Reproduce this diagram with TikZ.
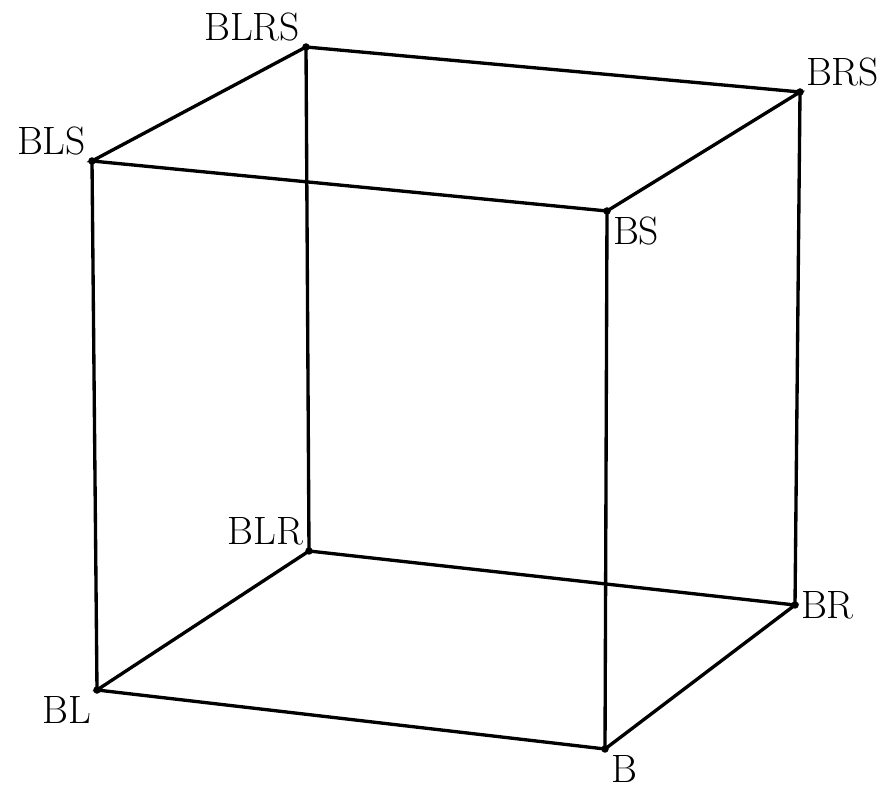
\documentclass[tikz,border=0pt]{standalone}
\usepackage{amsmath,amssymb}
\usetikzlibrary{arrows.meta}
\tikzset{vtx/.style={circle,fill,inner sep=0pt,minimum size=.15cm},lab/.style={font=\fontsize{22.5}{27}\selectfont,inner sep=2.5pt}}
\begin{document}
\begin{tikzpicture}[line width=1.9pt]
\useasboundingbox(0,0)rectangle(17.76,15.82);
\node[vtx](BLRS)at(6.12,14.88){};\node[vtx](BRS)at(16.0,13.98){};\node[vtx](BLS)at(1.84,12.6){};\node[vtx](BS)at(12.14,11.6){};
\node[vtx](BLR)at(6.18,4.8){};\node[vtx](BR)at(15.9,3.72){};\node[vtx](BL)at(1.94,2.02){};\node[vtx](B)at(12.1,0.84){};
\draw(BLRS.center)--(BRS.center)--(BS.center)--(BLS.center)--cycle;
\draw(BLR.center)--(BR.center)--(B.center)--(BL.center)--cycle;
\draw(BLRS.center)--(BLR.center);\draw(BRS.center)--(BR.center);\draw(BLS.center)--(BL.center);\draw(BS.center)--(B.center);
\node[lab,above left]at(BLRS){BLRS};\node[lab,above right]at(BRS){BRS};\node[lab,above left]at(BLS){BLS};\node[lab,below right]at(BS){BS};
\node[lab,above left]at(BLR){BLR};\node[lab,right]at(BR){BR};\node[lab,below left]at(BL){BL};\node[lab,below right]at(B){B};
\end{tikzpicture}
\end{document}
